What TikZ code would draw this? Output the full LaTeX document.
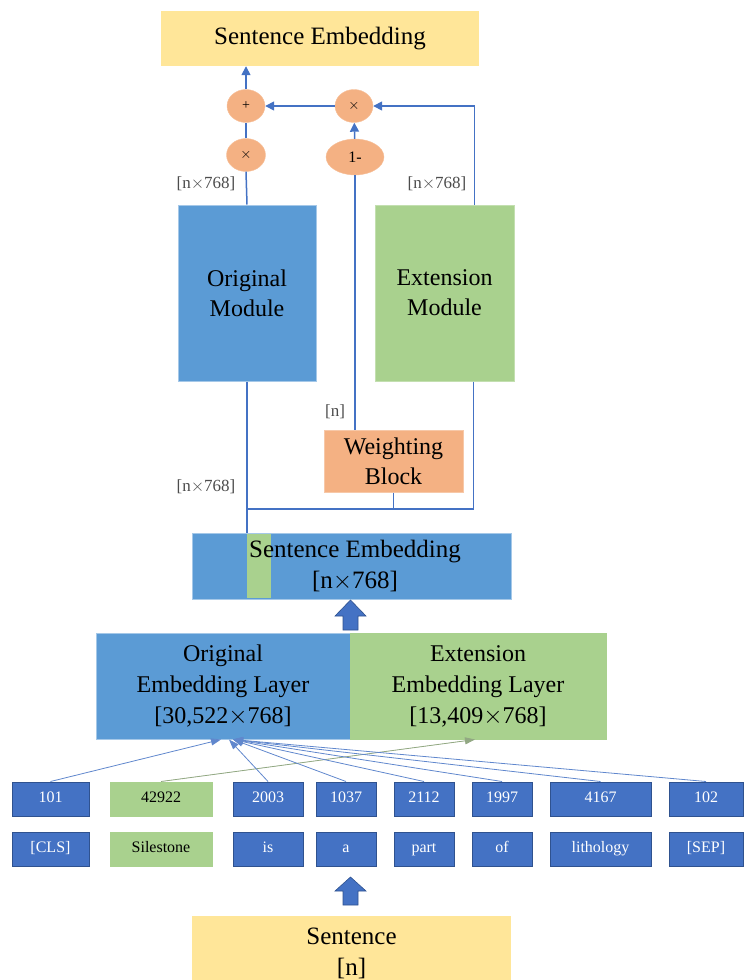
\documentclass[tikz,border=0pt]{standalone}
\usepackage{fontspec}
\setmainfont{Liberation Serif}
\usetikzlibrary{arrows.meta}
\usetikzlibrary{shapes.geometric}

\definecolor{modblue}{HTML}{5B9BD5}
\definecolor{tokblue}{HTML}{4472C4}
\definecolor{tokedge}{HTML}{2F528F}
\definecolor{extgreen}{HTML}{A9D18E}
\definecolor{wtorange}{HTML}{F4B183}
\definecolor{sentyellow}{HTML}{FFE699}

\begin{document}
\begin{tikzpicture}[x=1pt,y=-1pt,
	block/.style={inner sep=0pt, align=center, font=\fontsize{24}{30}\selectfont},
	yellowbox/.style={block, fill=sentyellow},
	bluebox/.style={block, fill=modblue, draw=modblue!55!white, line width=1pt},
	greenbox/.style={block, fill=extgreen, draw=extgreen!70!white, line width=1pt},
	orangebox/.style={block, fill=wtorange, draw=wtorange!70!white, line width=1pt},
	op/.style={ellipse, fill=wtorange, draw=wtorange!80!white, inner sep=0pt, font=\fontsize{14}{14}\selectfont},
	token/.style={fill=tokblue, draw=tokedge, line width=1pt, text=white, minimum height=34pt, inner sep=0pt, text height=11pt, text depth=3.5pt, font=\fontsize{16}{16}\selectfont},
	greentoken/.style={token, fill=extgreen, draw=extgreen, text=black},
	link/.style={draw=tokblue, line width=1.5pt},
	flow/.style={link, -{Triangle[length=9pt,width=9pt]}},
	idarrow/.style={draw=tokblue!85, line width=0.8pt, -{Triangle[length=10pt,width=7pt]}},
	idgreen/.style={idarrow, draw=extgreen!70!black!80, fill=extgreen!70!black!80},
	dim/.style={text=black!70, font=\fontsize{17}{17}\selectfont},
	bigarrow/.style={fill=tokblue, draw=tokedge, line width=0.6pt, line join=miter}]
	
	\useasboundingbox (0,0) rectangle (745,980);
	
	% output part
	\node[yellowbox, minimum width=318pt, minimum height=55pt, font=\fontsize{25}{30}\selectfont] (top) at (320,38.5) {Sentence Embedding};
	\node[op, minimum width=38pt, minimum height=33pt] (plus) at (246,106) {+};
	\node[op, minimum width=39pt, minimum height=33pt] (mulL) at (246,155) {$\times$};
	\node[op, minimum width=38pt, minimum height=33pt] (mulR) at (354,106) {$\times$};
	\node[op, minimum width=58pt, minimum height=36pt, font=\fontsize{16}{16}\selectfont] (oneminus) at (355,157) {1-};
	
	% modules
	\node[bluebox, minimum width=138pt, minimum height=176pt] (orig) at (247,293) {Original\\Module};
	\node[greenbox, minimum width=139pt, minimum height=176pt] (ext) at (444.5,293) {Extension\\Module};
	\node[orangebox, minimum width=139pt, minimum height=62pt] (weight) at (393.5,461) {Weighting\\Block};
	
	\node[dim] (lblA) at (206,184) {[n$\times$768]};
	\node[dim] (lblB) at (437,184) {[n$\times$768]};
	\node[dim] (lblC) at (335,412) {[n]};
	\node[dim] (lblD) at (206,487) {[n$\times$768]};
	
	% sentence embedding
	\node[bluebox, minimum width=319pt, minimum height=66pt] (midemb) at (351.5,566) {};
	\fill[extgreen] (247,534) rectangle (271,598);
	\node[block, font=\fontsize{25}{31}\selectfont] (midtext) at (355,566) {Sentence Embedding\\{}[n$\times$768]};
	
	\coordinate (join) at (247,509);
	
	\draw[flow] (plus.north) -- (plus.north |- top.south);
	\draw[link] (mulL) -- (plus);
	\draw[flow] (mulR) -- (plus);
	\draw[flow] (oneminus) -- (mulR);
	\draw[flow] ([xshift=30pt]ext.north) |- (mulR.east);
	\draw[link] (orig.north) -- (mulL.south);
	\draw[link] (weight.north -| oneminus) -- (oneminus.south);
	\draw[link] (orig.south) -- (orig.south |- midemb.north);
	\draw[link] (weight.south) -- (weight.south |- join);
	\draw[link] ([xshift=29pt]ext.south) |- (join);
	
	\coordinate (upA) at (350.5,600);
	\draw[bigarrow] (upA) -- ++(15.5,16) -- ++(-8,0) -- ++(0,14) -- ++(-15,0) -- ++(0,-14) -- ++(-8,0) -- cycle;
	
	% embedding layer
	\node[bluebox, minimum width=254pt, minimum height=106pt, font=\fontsize{24}{31}\selectfont] (origemb) at (223,686) {Original\\Embedding Layer\\{}[30,522$\times$768]};
	\node[greenbox, minimum width=256pt, minimum height=106pt, font=\fontsize{24}{31}\selectfont, draw=extgreen] (extemb) at (478,686) {Extension\\Embedding Layer\\{}[13,409$\times$768]};
	
	% token ids
	\node[token, minimum width=77pt] (i101) at (50.5,799) {101};
	\node[greentoken, minimum width=102pt] (i42922) at (161,799) {42922};
	\node[token, minimum width=70pt] (i2003) at (268,799) {2003};
	\node[token, minimum width=60pt] (i1037) at (346,799) {1037};
	\node[token, minimum width=60pt] (i2112) at (424,799) {2112};
	\node[token, minimum width=60pt] (i1997) at (502,799) {1997};
	\node[token, minimum width=101pt] (i4167) at (600.5,799) {4167};
	\node[token, minimum width=74pt] (i102) at (706,799) {102};
	
	% words
	\node[token, minimum width=77pt] (wcls) at (50.5,849) {[CLS]};
	\node[greentoken, minimum width=102pt] (wsile) at (161,849) {Silestone};
	\node[token, minimum width=70pt] (wis) at (268,849) {is};
	\node[token, minimum width=60pt] (wa) at (346,849) {a};
	\node[token, minimum width=60pt] (wpart) at (424,849) {part};
	\node[token, minimum width=60pt] (wof) at (502,849) {of};
	\node[token, minimum width=101pt] (wlith) at (600.5,849) {lithology};
	\node[token, minimum width=74pt] (wsep) at (706,849) {[SEP]};
	
	\draw[idarrow] (i101.north) -- ([xshift=-2pt]origemb.south);
	\draw[idgreen] (i42922.north) -- ([xshift=-3pt]extemb.south);
	\draw[idarrow] (i2003.north) -- ([xshift=6pt]origemb.south);
	\draw[idarrow] (i1037.north) -- ([xshift=10pt]origemb.south);
	\draw[idarrow] (i2112.north) -- ([xshift=10pt]origemb.south);
	\draw[idarrow] (i1997.north) -- ([xshift=10pt]origemb.south);
	\draw[idarrow] (i4167.north) -- ([xshift=10pt]origemb.south);
	\draw[idarrow] (i102.north) -- ([xshift=10pt]origemb.south);
	
	\coordinate (upB) at (350.5,877);
	\draw[bigarrow] (upB) -- ++(15.5,14) -- ++(-8,0) -- ++(0,14) -- ++(-15,0) -- ++(0,-14) -- ++(-8,0) -- cycle;
	
	% input
	\node[yellowbox, minimum width=319pt, minimum height=74pt, font=\fontsize{25}{31}\selectfont] (sent) at (351.5,953) {Sentence\\{}[n]};
	
\end{tikzpicture}
\end{document}
